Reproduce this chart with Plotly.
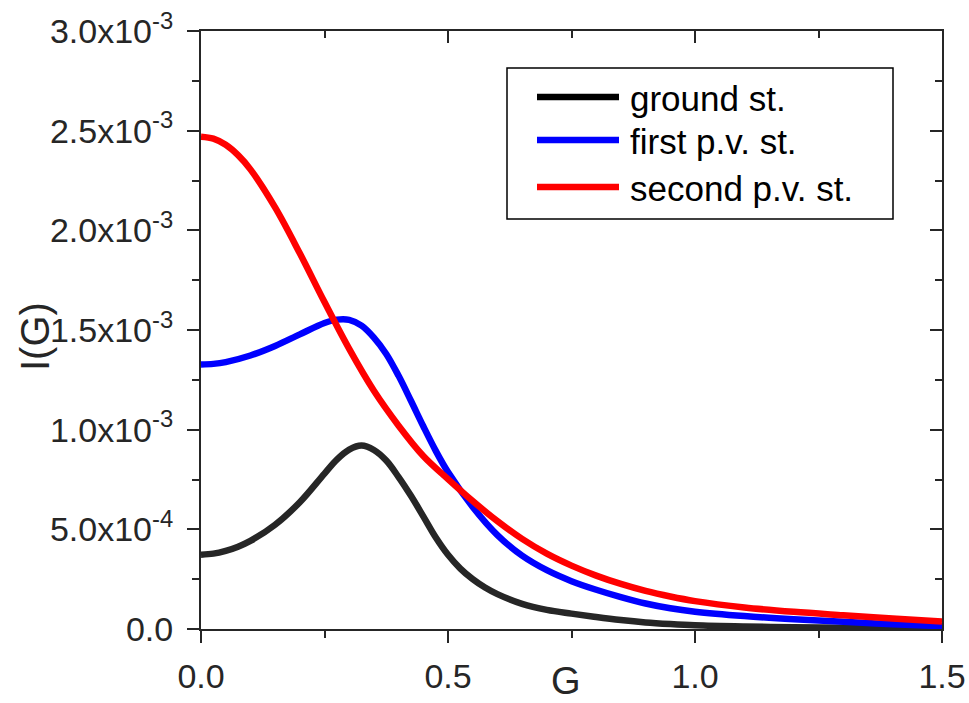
import plotly.graph_objects as go

# ---- data (intensity values in units of 1e-3) ----
UNIT = 1e-3

G_GROUND = [0.0, 0.025, 0.05, 0.075, 0.10, 0.15, 0.20, 0.25, 0.275, 0.30, 0.325, 0.35, 0.375, 0.40, 0.425,
            0.45, 0.475, 0.50, 0.525, 0.55, 0.575, 0.60, 0.65, 0.70, 0.75, 0.80, 0.85, 0.90, 0.95, 1.0,
            1.1, 1.2, 1.3, 1.4, 1.5]
I_GROUND = [0.373, 0.378, 0.392, 0.413, 0.442, 0.523, 0.636, 0.780, 0.850, 0.900, 0.920, 0.898, 0.845, 0.762,
            0.668, 0.565, 0.460, 0.372, 0.303, 0.250, 0.208, 0.175, 0.126, 0.096, 0.077, 0.060, 0.045, 0.033,
            0.025, 0.019, 0.013, 0.009, 0.006, 0.004, 0.003]

G_FIRST = [0.0, 0.025, 0.05, 0.10, 0.15, 0.20, 0.25, 0.275, 0.30, 0.325, 0.35, 0.375, 0.40, 0.425, 0.45,
           0.475, 0.50, 0.55, 0.60, 0.65, 0.70, 0.75, 0.80, 0.85, 0.90, 0.95, 1.0, 1.1, 1.2,
           1.3, 1.4, 1.5]
I_FIRST = [1.327, 1.330, 1.339, 1.372, 1.420, 1.478, 1.535, 1.552, 1.551, 1.522, 1.462, 1.380, 1.270, 1.145,
           1.017, 0.895, 0.787, 0.612, 0.471, 0.368, 0.295, 0.240, 0.197, 0.160, 0.128, 0.104, 0.087, 0.065,
           0.049, 0.036, 0.024, 0.014]

G_SECOND = [0.0, 0.025, 0.05, 0.075, 0.10, 0.15, 0.20, 0.25, 0.30, 0.35, 0.40, 0.45, 0.50, 0.55, 0.60,
            0.65, 0.70, 0.75, 0.80, 0.85, 0.90, 0.95, 1.0, 1.1, 1.2, 1.3, 1.4, 1.5]
I_SECOND = [2.470, 2.460, 2.429, 2.377, 2.306, 2.115, 1.885, 1.640, 1.405, 1.195, 1.020, 0.868, 0.752, 0.642,
            0.541, 0.452, 0.378, 0.318, 0.268, 0.226, 0.191, 0.163, 0.140, 0.108, 0.086, 0.069, 0.053, 0.038]

SERIES_NAMES = ["ground st.", "first p.v. st.", "second p.v. st."]
LINE_COLORS = ["#262626", "#0000ff", "#ff0000"]
LEGEND_COLORS = ["#000000", "#0000ff", "#ff0000"]

X_TICKS = [0.0, 0.5, 1.0, 1.5]
X_TICK_TEXT = ["0.0", "0.5", "1.0", "1.5"]
Y_TICKS = [0.0, 0.5e-3, 1.0e-3, 1.5e-3, 2.0e-3, 2.5e-3, 3.0e-3]
Y_TICK_TEXT = ["0.0", "5.0x10<sup>-4</sup>", "1.0x10<sup>-3</sup>", "1.5x10<sup>-3</sup>",
               "2.0x10<sup>-3</sup>", "2.5x10<sup>-3</sup>", "3.0x10<sup>-3</sup>"]

X_RANGE = [0.0, 1.5]
Y_RANGE = [0.0, 3.0e-3]

FONT = "Liberation Sans, Arial, sans-serif"
AXIS_COLOR = "#262626"

W, H = 969, 703
ML, MR, MT, MB = 201, 27, 31, 74
PW, PH = W - ML - MR, H - MT - MB


def px_x(p):
    return (p - ML) / PW


def px_y(p):
    return (H - MB - p) / PH


fig = go.Figure()

series = [(G_GROUND, I_GROUND), (G_FIRST, I_FIRST), (G_SECOND, I_SECOND)]
for (g, vals), name, color in zip(series, SERIES_NAMES, LINE_COLORS):
    fig.add_trace(go.Scatter(
        x=g, y=[v * UNIT for v in vals], mode="lines", name=name,
        line=dict(color=color, width=6.5, shape="spline", smoothing=1.0),
        showlegend=False,
    ))

# empty trace that carries the mirrored top/right axes
fig.add_trace(go.Scatter(x=[], y=[], xaxis="x2", yaxis="y2", showlegend=False, hoverinfo="skip"))

common = dict(showline=True, linecolor=AXIS_COLOR, linewidth=2, showgrid=False, zeroline=False,
              tickcolor=AXIS_COLOR, tickwidth=2, automargin=False,
              tickfont=dict(family=FONT, size=34, color="#262626"))
mirror_common = dict(showticklabels=False, showline=False, showgrid=False, zeroline=False,
                     tickcolor=AXIS_COLOR, tickwidth=2, automargin=False, ticks="inside", ticklen=12)

fig.update_layout(
    width=W, height=H,
    margin=dict(l=ML, r=MR, t=MT, b=MB, autoexpand=False),
    plot_bgcolor="white", paper_bgcolor="white",
    showlegend=False,
    xaxis=dict(range=X_RANGE, tickvals=X_TICKS, ticktext=X_TICK_TEXT, ticks="outside", ticklen=12,
               minor=dict(dtick=0.25, ticks="outside", ticklen=7, tickwidth=2, tickcolor=AXIS_COLOR),
               mirror=True, ticklabelstandoff=4, **common),
    yaxis=dict(range=Y_RANGE, tickvals=Y_TICKS, ticktext=Y_TICK_TEXT, ticks="outside", ticklen=12,
               minor=dict(dtick=0.25e-3, ticks="outside", ticklen=7, tickwidth=2, tickcolor=AXIS_COLOR),
               mirror=True, ticklabelstandoff=7, **common),
    xaxis2=dict(range=X_RANGE, overlaying="x", side="top", tickvals=X_TICKS,
                minor=dict(dtick=0.25, ticks="inside", ticklen=7, tickwidth=2, tickcolor=AXIS_COLOR),
                **mirror_common),
    yaxis2=dict(range=Y_RANGE, overlaying="y", side="right", tickvals=Y_TICKS,
                minor=dict(dtick=0.25e-3, ticks="inside", ticklen=7, tickwidth=2, tickcolor=AXIS_COLOR),
                **mirror_common),
)

# axis titles
fig.add_annotation(text="I(G)", xref="paper", yref="paper", x=px_x(35), y=px_y(337),
                   textangle=-90, showarrow=False, xanchor="center", yanchor="middle",
                   font=dict(family=FONT, size=40, color="#262626"))
fig.add_annotation(text="G", xref="paper", yref="paper", x=px_x(566), y=px_y(681),
                   showarrow=False, xanchor="center", yanchor="middle",
                   font=dict(family=FONT, size=38, color="#262626"))

# legend box with line samples
fig.add_shape(type="rect", xref="paper", yref="paper",
              x0=px_x(507), x1=px_x(893), y0=px_y(219), y1=px_y(68),
              line=dict(color="#000000", width=1.5), fillcolor="white", layer="above")
legend_rows = [97, 140, 187]
for row, name, color in zip(legend_rows, SERIES_NAMES, LEGEND_COLORS):
    fig.add_shape(type="line", xref="paper", yref="paper",
                  x0=px_x(537), x1=px_x(619), y0=px_y(row), y1=px_y(row),
                  line=dict(color=color, width=6.5), layer="above")
    fig.add_annotation(text=name, xref="paper", yref="paper", x=px_x(628), y=px_y(row + 1),
                       showarrow=False, xanchor="left", yanchor="middle",
                       font=dict(family=FONT, size=35, color="#000000"))

fig.write_html("out.html")
